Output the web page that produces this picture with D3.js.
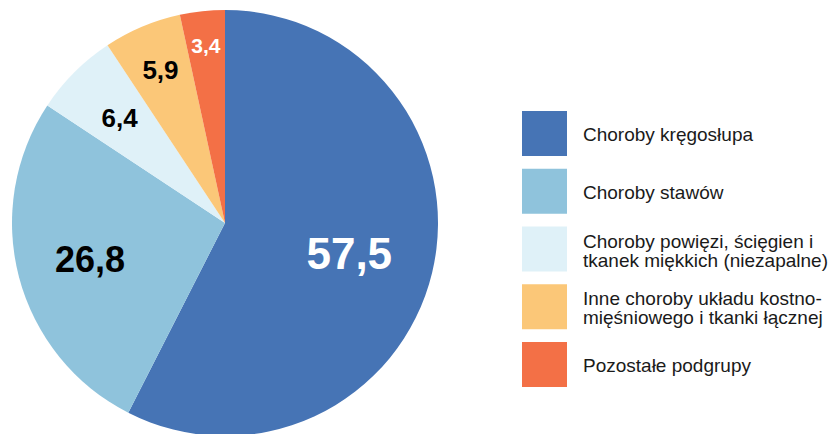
<!DOCTYPE html>
<html lang="pl">
<head>
<meta charset="UTF-8">
<title>Choroby układu kostno-mięśniowego</title>
<style>
	*{margin:0;padding:0;}
	body{background:#fff;}
	svg{display:block;font-family:Arial,"Liberation Sans",sans-serif;}
</style>
</head>
<body>
<div id="container"></div>
<script src="https://cdn.jsdelivr.net/npm/d3@7/dist/d3.min.js"></script>
<script>
var categories = [
	["Choroby kręgosłupa"],
	["Choroby stawów"],
	["Choroby powięzi, ścięgien i", "tkanek miękkich (niezapalne)"],
	["Inne choroby układu kostno-", "mięśniowego i tkanki łącznej"],
	["Pozostałe podgrupy"]
]
var values = [57.5, 26.8, 6.4, 5.9, 3.4]
var colors = ["#4674b5", "#8fc3dc", "#dff1f8", "#fbc778", "#f37046"]
var labelColors = ["#fff", "#000", "#000", "#000", "#fff"]
var labelSizes = [44, 36, 26, 26, 21]
// label radius as fraction of outer radius
var labelPos = [0.60, 0.655, 0.70, 0.78, 0.84]

var W = 832, H = 434
var cx = 225, cy = 223, R = 213

var svg = d3.select('#container').append('svg').attr('width', W).attr('height', H)

var pie = d3.pie().sort(null).value(function (d) {return d})
var arcs = pie(values)
var arc = d3.arc().innerRadius(0).outerRadius(R)

var g = svg.append('g').attr('transform', 'translate(' + cx + ',' + cy + ')')

g.selectAll('path')
	.data(arcs)
	.enter()
	.append('path')
	.attr('d', arc)
	.attr('fill', function (d, i) {return colors[i]})

g.selectAll('text')
	.data(arcs)
	.enter()
	.append('text')
	.attr('transform', function (d, i) {
		var r = R * labelPos[i]
		var c = d3.arc().innerRadius(r).outerRadius(r).centroid(d)
		return 'translate(' + c[0] + ',' + c[1] + ')'
	})
	.attr('text-anchor', 'middle')
	.attr('dy', '0.36em')
	.attr('font-weight', 'bold')
	.attr('font-size', function (d, i) {return labelSizes[i] + 'px'})
	.attr('fill', function (d, i) {return labelColors[i]})
	.text(function (d) {return d3.format('.1f')(d.data).replace('.', ',')})

// legend
var ly = d3.scaleLinear().domain([0, 4]).range([111, 342])
var leg = svg.selectAll('g.leg')
	.data(categories)
	.enter()
	.append('g')
	.attr('class', 'leg')
	.attr('transform', function (d, i) {return 'translate(522,' + ly(i) + ')'})

leg.append('rect')
	.attr('width', 45)
	.attr('height', 45)
	.attr('fill', function (d, i) {return colors[i]})

leg.append('text')
	.attr('y', function (d) {return d.length > 1 ? 21 : 30})
	.attr('font-size', '19px')
	.attr('fill', '#1a1a1a')
	.selectAll('tspan')
	.data(function (d) {return d})
	.enter()
	.append('tspan')
	.attr('x', 61)
	.attr('dy', function (d, i) {return i ? 19 : 0})
	.text(function (d) {return d})
</script>
</body>
</html>
